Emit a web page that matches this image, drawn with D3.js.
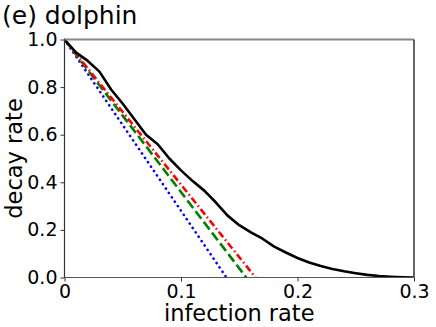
<!DOCTYPE html>
<html lang="en">
<head>
<meta charset="UTF-8">
<title>(e) dolphin</title>
<style>
    body { margin: 0; background: #fff; }
    svg { display: block; font-family: "DejaVu Sans", sans-serif; }
</style>
</head>
<body>
<div id="chart"></div>
<script src="https://d3js.org/d3.v7.min.js"></script>
<script>
// simulated decay rate (black solid)
var simX = [0, 0.01, 0.02, 0.03, 0.04, 0.05, 0.06, 0.07, 0.08, 0.09, 0.10,
            0.11, 0.12, 0.13, 0.14, 0.15, 0.16, 0.17, 0.18, 0.19, 0.20,
            0.21, 0.22, 0.23, 0.24, 0.25, 0.26, 0.27, 0.28, 0.29, 0.30];
var simY = [1.0, 0.945, 0.91, 0.865, 0.79, 0.73, 0.665, 0.60, 0.56, 0.50, 0.45,
            0.405, 0.365, 0.315, 0.26, 0.22, 0.19, 0.163, 0.13, 0.105, 0.082,
            0.063, 0.048, 0.036, 0.026, 0.018, 0.011, 0.006, 0.003, 0.001, 0.0];

// linear approximations (start / end)
var redX = [0, 0.164],   redY = [1, 0];
var greenX = [0, 0.156], greenY = [1, 0];
var blueX = [0, 0.139],  blueY = [1, 0];

var xTicks = [0, 0.1, 0.2, 0.3];
var xTickLabels = ["0", "0.1", "0.2", "0.3"];
var yTicks = [0, 0.2, 0.4, 0.6, 0.8, 1.0];
var yTickLabels = ["0.0", "0.2", "0.4", "0.6", "0.8", "1.0"];

var width = 436, height = 327;
var plotL = 64.5, plotR = 414, plotT = 39.5, plotB = 277.5;

var svg = d3.select("#chart").append("svg")
    .attr("width", width)
    .attr("height", height);

var x = d3.scaleLinear().domain([0, 0.3]).range([plotL, plotR]);
var y = d3.scaleLinear().domain([0, 1]).range([plotB, plotT]);

svg.append("defs").append("clipPath").attr("id", "plotclip")
    .append("rect")
    .attr("x", plotL).attr("y", plotT - 3)
    .attr("width", plotR - plotL).attr("height", plotB - plotT + 3);

function pts(xs, ys) {
    return xs.map(function(d, i) { return [d, ys[i]]; });
}

var line = d3.line()
    .x(function(d) { return x(d[0]); })
    .y(function(d) { return y(d[1]); });

var g = svg.append("g").attr("clip-path", "url(#plotclip)");

g.append("path")
    .attr("d", line(pts(blueX, blueY)))
    .attr("fill", "none").attr("stroke", "#0000ff")
    .attr("stroke-width", 2.6)
    .attr("stroke-linecap", "round")
    .attr("stroke-dasharray", "0.1 5.2");

g.append("path")
    .attr("d", line(pts(greenX, greenY)))
    .attr("fill", "none").attr("stroke", "#008000")
    .attr("stroke-width", 2.6)
    .attr("stroke-dasharray", "9.5 4");

g.append("path")
    .attr("d", line(pts(redX, redY)))
    .attr("fill", "none").attr("stroke", "#ff0000")
    .attr("stroke-width", 2.6)
    .attr("stroke-dasharray", "7 3 1.5 3");

g.append("path")
    .attr("d", line(pts(simX, simY)))
    .attr("fill", "none").attr("stroke", "#000")
    .attr("stroke-width", 2.6)
    .attr("stroke-linejoin", "round");

// spines
svg.append("line").attr("x1", plotL).attr("x2", plotR).attr("y1", plotT).attr("y2", plotT)
    .attr("stroke", "#888").attr("stroke-width", 2);
svg.append("line").attr("x1", plotR).attr("x2", plotR).attr("y1", plotT).attr("y2", plotB)
    .attr("stroke", "#333").attr("stroke-width", 1.5);
svg.append("line").attr("x1", plotL).attr("x2", plotR).attr("y1", plotB).attr("y2", plotB)
    .attr("stroke", "#555").attr("stroke-width", 1.2);
svg.append("line").attr("x1", plotL).attr("x2", plotL).attr("y1", plotT).attr("y2", plotB)
    .attr("stroke", "#333").attr("stroke-width", 1.2);

// axes
var xAxis = d3.axisBottom(x).tickValues(xTicks)
    .tickFormat(function(d, i) { return xTickLabels[i]; })
    .tickSize(4).tickPadding(3);
var yAxis = d3.axisLeft(y).tickValues(yTicks)
    .tickFormat(function(d, i) { return yTickLabels[i]; })
    .tickSize(4).tickPadding(3);

var gx = svg.append("g").attr("transform", "translate(0," + plotB + ")").call(xAxis);
var gy = svg.append("g").attr("transform", "translate(" + plotL + ",0)").call(yAxis);
[gx, gy].forEach(function(a) {
    a.select(".domain").remove();
    a.selectAll(".tick line").attr("stroke", "#333").attr("stroke-width", 1);
    a.selectAll("text").attr("fill", "#000")
        .style("font-size", "19px").style("font-family", "DejaVu Sans");
});

// labels
svg.append("text")
    .attr("x", 2).attr("y", 24)
    .style("font-size", "25px")
    .text("(e) dolphin");

svg.append("text")
    .attr("x", (plotL + plotR) / 2).attr("y", 321)
    .attr("text-anchor", "middle")
    .style("font-size", "22.5px")
    .text("infection rate");

svg.append("text")
    .attr("transform", "translate(22," + ((plotT + plotB) / 2) + ") rotate(-90)")
    .attr("text-anchor", "middle")
    .style("font-size", "22.5px")
    .text("decay rate");
</script>
</body>
</html>
